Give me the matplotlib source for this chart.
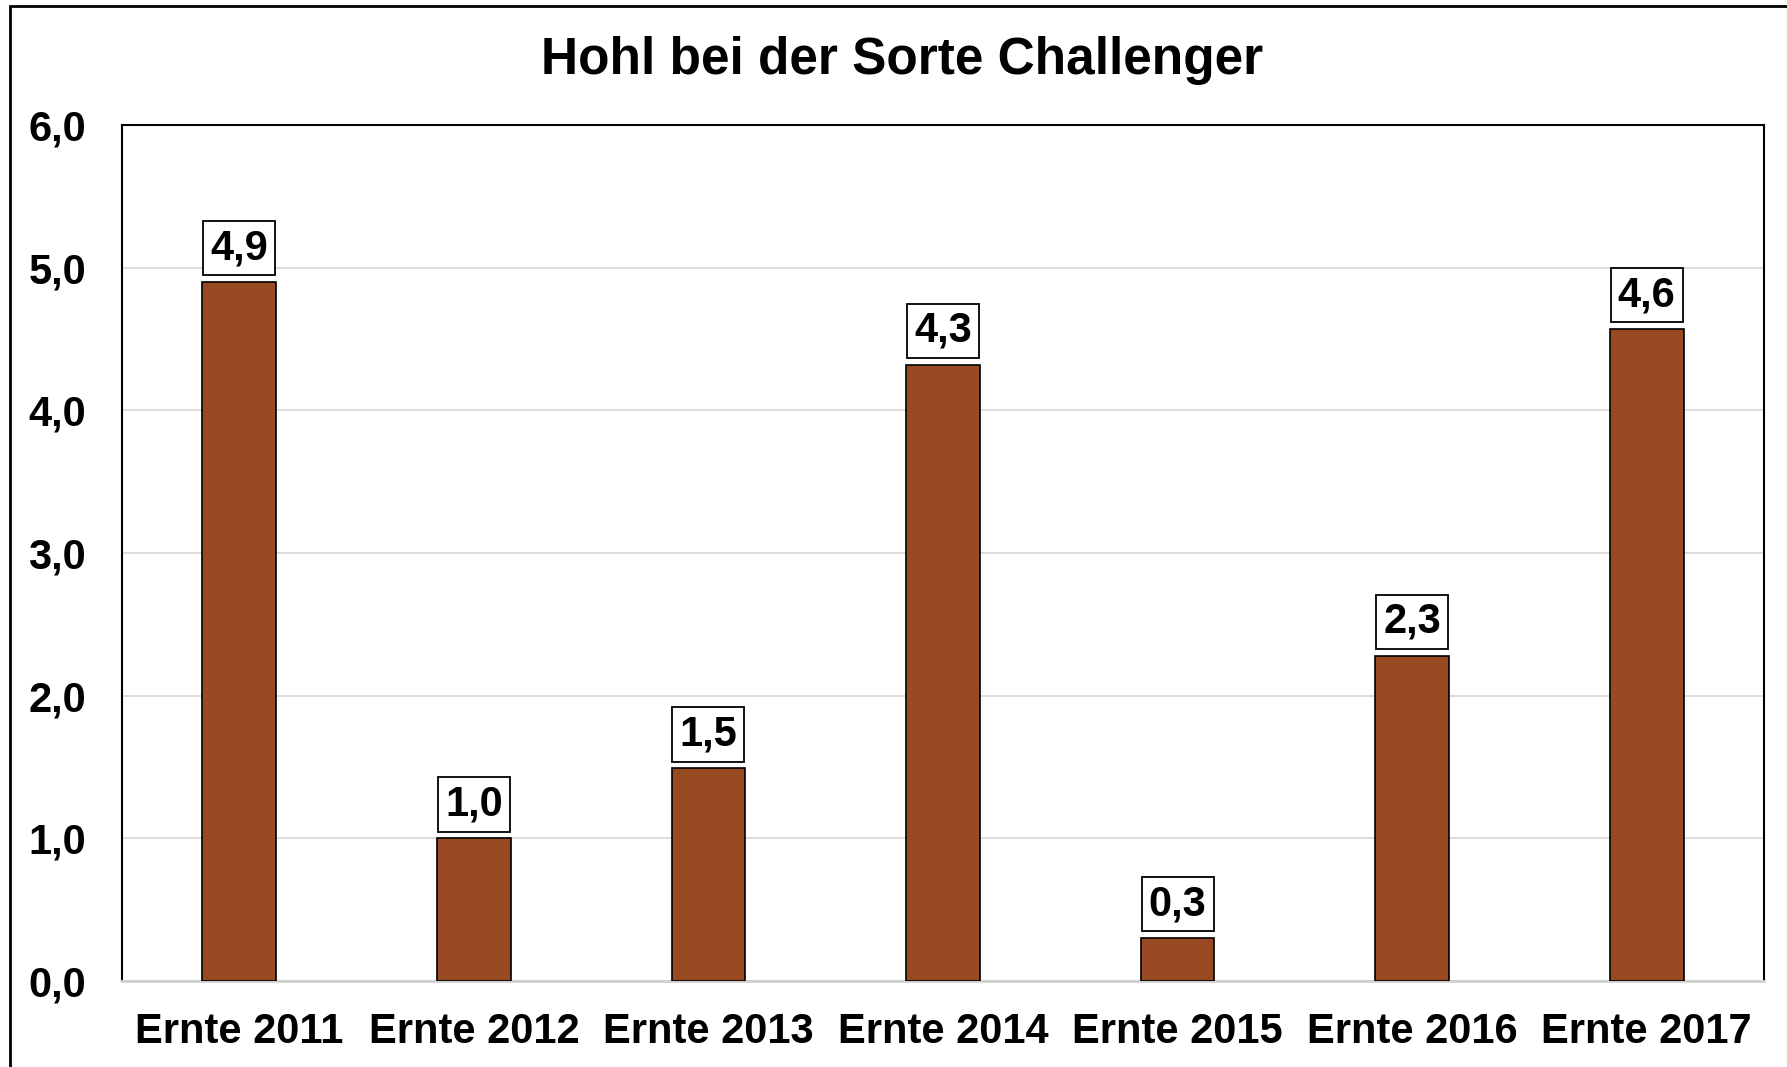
import matplotlib.pyplot as plt
from matplotlib.patches import Rectangle

categories = ['Ernte 2011', 'Ernte 2012', 'Ernte 2013', 'Ernte 2014',
              'Ernte 2015', 'Ernte 2016', 'Ernte 2017']
values = [4.90, 1.00, 1.49, 4.32, 0.30, 2.28, 4.57]
y_ticks = [0, 1, 2, 3, 4, 5, 6]
title = 'Hohl bei der Sorte Challenger'

BAR_COLOR = '#984a23'


def fmt(v):
    return f'{v:.1f}'.replace('.', ',')


plt.rcParams['font.family'] = ['Liberation Sans', 'DejaVu Sans']
plt.rcParams['font.weight'] = 'bold'

fig = plt.figure(figsize=(17.87, 10.67), dpi=100)
ax = fig.add_axes([0.0683, 0.0806, 0.9188, 0.8023])

x = range(len(categories))
ax.bar(x, values, width=0.315, color=BAR_COLOR, edgecolor='black',
       linewidth=1.2, zorder=3)

# value labels in little boxes
for xi, v in zip(x, values):
    ax.annotate(fmt(v), (xi, v), xytext=(0, 10), textcoords='offset points',
                ha='center', va='bottom', fontsize=30, fontweight='bold',
                bbox=dict(boxstyle='square,pad=0.17', fc='white',
                          ec='black', lw=1.3), zorder=4)

ax.set_xlim(-0.5, len(categories) - 0.5)
ax.set_ylim(0, 6)
ax.set_yticks(y_ticks)
ax.set_yticklabels([fmt(t) for t in y_ticks], fontsize=30, fontweight='bold')
ax.set_xticks(list(x))
ax.set_xticklabels(categories, fontsize=30, fontweight='bold')
ax.tick_params(axis='y', length=0, pad=26)
ax.tick_params(axis='x', length=0, pad=22)

ax.grid(axis='y', color='#d9d9d9', linewidth=1.3, zorder=0)
for side in ['top', 'right', 'left']:
    ax.spines[side].set_color('black')
    ax.spines[side].set_linewidth(1.5)
ax.spines['bottom'].set_color('#d0d0d0')
ax.spines['bottom'].set_linewidth(2)

fig.text(0.505, 0.943, title, ha='center', va='center', fontsize=37,
         fontweight='bold')

# outer frame, cut at right and bottom like the original
fig.patches.append(Rectangle((10 / 1787, -0.05), 1.2, 1 - 6 / 1067 + 0.05,
                             transform=fig.transFigure, fill=False,
                             ec='black', lw=2, zorder=10))

fig.savefig('out.png', dpi=100)
